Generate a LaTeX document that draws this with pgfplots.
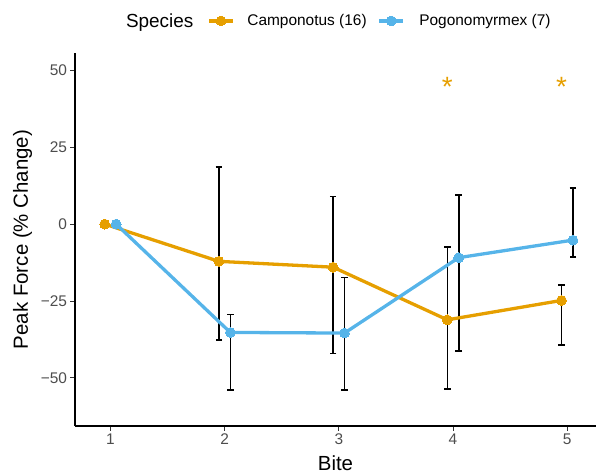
\documentclass[border=0pt]{standalone}
\usepackage{fontspec}
\setmainfont{Liberation Sans}
\usepackage{pgfplots}
\usepackage{pgfplotstable}
\pgfplotsset{compat=1.18}
\definecolor{camp}{HTML}{E69F00}
\definecolor{pogo}{HTML}{56B4E9}
\definecolor{tickgray}{HTML}{4D4D4D}
\definecolor{tickmark}{HTML}{333333}

\pgfplotstableread{
x y
0.95 0
1.95 -12.1
2.95 -14.0
3.95 -31.1
4.95 -24.8
}\camptab
\pgfplotstableread{
x y
1.05 0
2.05 -35.2
3.05 -35.4
4.05 -10.9
5.05 -5.2
}\pogotab
\pgfplotstableread{
x y ep em
1.95 -12.1 30.6 25.6
2.95 -14.0 23.0 28.0
3.95 -31.1 23.6 22.5
4.95 -24.8 5.0 14.5
2.05 -35.2 5.8 18.8
3.05 -35.4 18.1 18.6
4.05 -10.9 20.3 30.3
5.05 -5.2 17.0 5.4
}\errtab

\begin{document}
\begin{tikzpicture}
\begin{axis}[
  scale only axis, width=521bp, height=373bp,
  xmin=0.69, xmax=5.252, ymin=-65.6, ymax=55.6,
  axis x line*=bottom, axis y line*=left,
  axis line style={black, line width=1.1bp, -},
  xtick={1,2,3,4,5},
  ytick={-50,-25,0,25,50}, yticklabels={−50,−25,0,25,50},
  tick style={tickmark, line width=1bp},
  tick align=outside, major tick length=4.5bp,
  tick label style={font=\fontsize{15.5}{15.5}\selectfont, text=tickgray},
  /pgf/number format/assume math mode=true,
  xlabel={Bite}, ylabel={Peak Force (\% Change)},
  label style={font=\fontsize{20.5}{20.5}\selectfont},
  xlabel style={at={(axis description cs:0.5,-0.099)}, anchor=center},
  ylabel style={at={(axis description cs:-0.1008,0.5)}, anchor=center},
  clip=false,
  legend columns=-1,
  legend style={at={(axis description cs:0.5054,1.086)}, anchor=center, draw=none, fill=none,
    font=\fontsize{15.5}{15.5}\selectfont, column sep=0bp,
    nodes={inner sep=0bp},
    legend image code/.code={\draw[mark repeat=2,mark phase=2] plot coordinates {(0bp,0bp)(12bp,0bp)(24bp,0bp)};}},
]
\addlegendimage{empty legend}
\addlegendentry{\fontsize{19}{19}\selectfont Species\hspace*{14bp}\mbox{}}
\addplot[forget plot, only marks, mark=none, draw=black,
  error bars/.cd, y dir=both, y explicit,
  error bar style={draw=black, line width=1.6bp, solid},
  error mark options={draw=black, rotate=90, mark size=3.3bp, line width=1.6bp}]
  table[x=x, y=y, y error plus=ep, y error minus=em] {\errtab};
\addplot[camp, line width=3.3bp, mark=*, mark size=4.9bp, mark options={solid, fill=camp, draw=camp, line width=0bp}]
  table[x=x, y=y] {\camptab};
\addlegendentry{\hspace*{12.7bp}Camponotus (16)\hspace*{11bp}\mbox{}}
\addplot[pogo, line width=3.3bp, mark=*, mark size=4.9bp, mark options={solid, fill=pogo, draw=pogo, line width=0bp}]
  table[x=x, y=y] {\pogotab};
\addlegendentry{\hspace*{14.3bp}Pogonomyrmex (7)}
\addplot[forget plot, only marks, mark=none, nodes near coords={*},
  every node near coord/.append style={anchor=center, text=camp, font=\fontsize{28}{28}\selectfont, inner sep=0pt, yshift=-2bp}]
  coordinates {(3.95,45.3) (4.95,45.3)};
\end{axis}
\pgfresetboundingbox
\path (current axis.south west) ++(-75bp,-47bp) rectangle ++(596bp,473bp);
\end{tikzpicture}
\end{document}
